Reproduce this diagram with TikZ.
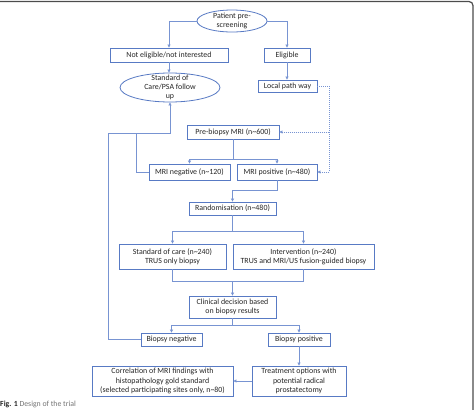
\documentclass[tikz,border=0pt]{standalone}
\usepackage{fontspec}
\setmainfont{Carlito}
\usetikzlibrary{positioning,arrows.meta,shapes.geometric,calc}

\definecolor{flowblue}{RGB}{88,122,196}
\definecolor{lineblue}{RGB}{120,148,210}

\begin{document}
\begin{tikzpicture}[
  x=1pt,y=-1pt,
  font=\fontsize{7.9}{9.3}\selectfont,
  box/.style={rectangle,draw=flowblue,line width=0.8pt,fill=white,text=black!85,
              align=center,inner sep=1pt},
  oval/.style={ellipse,draw=flowblue,line width=0.8pt,fill=white,text=black!85,
               align=center,inner xsep=0pt,inner ysep=-3pt},
  line/.style={lineblue,line width=0.6pt},
  arr/.style={line,-{Triangle[length=3pt,width=3pt]}},
  dotarr/.style={arr,dash pattern=on 1pt off 1pt},
]
\useasboundingbox (0,0) rectangle (475,410);
% frame
\draw[black!70,line width=1.2pt,rounded corners=4pt] (0,1.5) -- (473,1.5) -- (473,411);

\node[oval,minimum width=70pt,minimum height=22pt] (pat) at (232,21) {Patient pre-\\screening};
\node[box,minimum width=118pt,minimum height=14pt] (notel) at (169,55) {Not eligible/not interested};
\node[box,minimum width=46pt,minimum height=14pt] (elig) at (287,55) {Eligible};
\node[oval,minimum width=100pt,minimum height=29pt] (soc) at (170,87.5) {Standard of\\Care/PSA follow\\up};
\node[box,minimum width=59pt,minimum height=12pt] (local) at (287.5,86) {Local path way};
\node[box,minimum width=92pt,minimum height=14pt] (premri) at (233,132) {Pre-biopsy MRI (n\textasciitilde600)};
\node[box,minimum width=81pt,minimum height=16pt] (mrineg) at (189.5,172) {MRI negative (n\textasciitilde120)};
\node[box,minimum width=80pt,minimum height=16pt] (mripos) at (277,172) {MRI positive (n\textasciitilde480)};
\node[box,minimum width=87pt,minimum height=13pt] (rand) at (232.5,208.5) {Randomisation (n\textasciitilde480)};
\node[box,minimum width=107pt,minimum height=25pt] (socbx) at (172.5,256.5)
   {Standard of care (n\textasciitilde240)\\TRUS only biopsy};
\node[box,minimum width=141pt,minimum height=25pt] (interv) at (303.5,256.5)
   {Intervention (n\textasciitilde240)\\TRUS and MRI/US fusion-guided biopsy};
\node[box,minimum width=87pt,minimum height=22pt] (clin) at (232.5,307)
   {Clinical decision based\\on biopsy results};
\node[box,minimum width=61pt,minimum height=13pt] (bneg) at (171.5,339.5) {Biopsy negative};
\node[box,minimum width=62pt,minimum height=13pt] (bpos) at (299,339.5) {Biopsy positive};
\node[box,minimum width=94pt,minimum height=30pt] (treat) at (299,381)
   {Treatment options with\\potential radical\\prostatectomy};
\node[box,minimum width=141pt,minimum height=30pt] (corr) at (162.5,381)
   {Correlation of MRI findings with\\histopathology gold standard\\(selected participating sites only, n\textasciitilde80)};

\draw[arr] (pat.west) -| (notel.north);
\draw[arr] (pat.east) -| (elig.north);
\draw[arr] (notel.south) -- (notel.south |- soc.north);
\draw[arr] (elig.south) -- (elig.south |- local.north);
% dotted path from the local path way
\coordinate (dot) at ($(local.east)+(12,0)$);
\draw[dotarr] (local.east) -- (dot) |- (premri.east);
\draw[dotarr] (dot) |- (mripos.east);
\draw[line] (premri.south) -- ++(0,20) coordinate (s1);
\draw[arr] (s1) -| (mrineg.north);
\draw[arr] (s1) -| (mripos.north);
\draw[arr] (mripos.south) -- ++(0,10) -| (rand.north);
\draw[line] (rand.south) -- ++(0,16) coordinate (s2);
\draw[arr] (s2) -| (socbx.north);
\draw[arr] (s2) -| (interv.north);
\coordinate (m1) at ($(clin.north)+(0,-14)$);
\draw[line] (socbx.south) |- (m1) -| (interv.south);
\draw[arr] (m1) -- (clin.north);
\draw[line] (clin.south) -- ++(0,7) coordinate (s3);
\draw[arr] (s3) -| (bneg.north);
\draw[arr] (s3) -| (bpos.north);
\draw[arr] (bpos) -- (treat);
\draw[arr] (treat) -- (corr);
% negative results back to follow up
\coordinate (ret) at (108,133);
\draw[arr] (bneg.west) -| (ret) -| (soc.south);
\draw[line] (mrineg.west) -- ++(-12,0) |- (ret);

\node[anchor=west,inner sep=0pt,font=\fontsize{7.8}{9}\selectfont,text=black!55] (cap) at (0,404)
   {\textcolor{black!85}{\textbf{Fig. 1}} Design of the trial};
\end{tikzpicture}
\end{document}
